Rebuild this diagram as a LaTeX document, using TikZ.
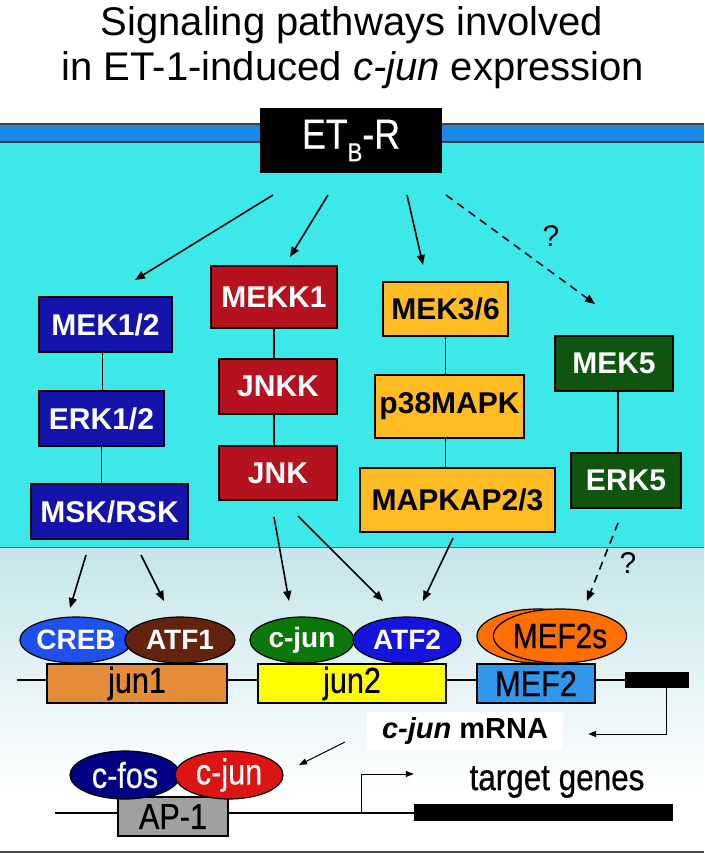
\documentclass[tikz,border=0pt]{standalone}
\usepackage{fontspec}
\setmainfont{Liberation Sans}
\newfontfamily\narrowfont[FakeStretch=0.85,FakeBold=0.6]{Liberation Sans}
\usetikzlibrary{arrows.meta,shapes.geometric}
\newcommand{\myfs}[1]{\fontsize{#1}{#1}\selectfont}
\definecolor{cyanbg}{RGB}{60,232,232}
\definecolor{membr}{RGB}{30,136,229}
\definecolor{lowbg}{RGB}{196,229,234}
\definecolor{cBlue}{RGB}{20,20,170}
\definecolor{cRed}{RGB}{180,18,30}
\definecolor{cOrange}{RGB}{255,187,34}
\definecolor{cGreen}{RGB}{15,85,15}
\definecolor{cCreb}{RGB}{30,80,240}
\definecolor{cAtfA}{RGB}{100,35,15}
\definecolor{cJunG}{RGB}{10,120,10}
\definecolor{cAtfB}{RGB}{20,20,220}
\definecolor{cMef}{RGB}{255,110,0}
\definecolor{cJunA}{RGB}{228,140,55}
\definecolor{cJunB}{RGB}{255,255,0}
\definecolor{cMefBox}{RGB}{50,150,235}
\definecolor{cFos}{RGB}{0,0,130}
\definecolor{cJunR}{RGB}{220,20,20}
\definecolor{cAP}{RGB}{160,160,160}
\begin{document}
\begin{tikzpicture}[x=1pt,y=-1pt,
  pbox/.style={draw=black, line width=1.2pt, inner sep=0pt, font=\bfseries\myfs{30}},
  bluebox/.style={pbox, fill=cBlue, text=white},
  redbox/.style={pbox, fill=cRed, text=white},
  orangebox/.style={pbox, fill=cOrange, text=black},
  greenbox/.style={pbox, fill=cGreen, text=white},
  oval/.style={ellipse, draw=black, line width=1.2pt, inner sep=0pt, minimum height=46pt},
  dnabox/.style={draw=black, line width=1.2pt, inner sep=0pt, minimum height=39pt, font=\narrowfont\myfs{36}},
  link/.style={line width=1.2pt},
  arr/.style={-{Triangle[length=10pt,width=8pt]}, line width=1.6pt},
  darr/.style={arr, dash pattern=on 8pt off 6pt},
  thinarr/.style={-{Triangle[length=8pt,width=6pt]}, line width=1pt},
  qmark/.style={font=\myfs{30}}
]
\useasboundingbox (0,0) rectangle (704,853);
% backgrounds
\fill[white] (0,0) rectangle (704,853);
\fill[cyanbg] (0,142) rectangle (704,547);
\fill[membr] (0,124) rectangle (704,142);
\draw[line width=1.2pt, black!75] (0,124) -- (704,124);
\draw[line width=1.2pt, black!75] (0,142) -- (704,142);
\shade[top color=lowbg, bottom color=white] (0,547) rectangle (704,790);
\draw[line width=1pt, black!60] (0,547) -- (704,547);
\draw[line width=2pt, black!70] (0,851.5) -- (704,851.5);

% title
\node[anchor=base, font=\myfs{40}] (t1) at (352,36) {Signaling pathways involved};
\node[anchor=base, font=\myfs{40}] (t2) at (353,81) {in ET-1-induced \textit{c-jun} expression};

% receptor
\node[fill=black, text=white, inner sep=0pt, minimum width=182pt, minimum height=65pt, font=\narrowfont\myfs{42}] (etb) at (351,140.5)
  {ET\raisebox{-0.3em}{\myfs{26}B}-R};

% kinase boxes
\node[bluebox, minimum width=133pt, minimum height=55pt] (mek12) at (105.5,324.5) {MEK1/2};
\node[bluebox, minimum width=125pt, minimum height=55pt] (erk12) at (101.5,418.5) {ERK1/2};
\node[bluebox, minimum width=157pt, minimum height=55pt] (msk) at (109.5,511.5) {MSK/RSK};
\node[redbox, minimum width=126pt, minimum height=62pt] (mekk1) at (274,297) {MEKK1};
\node[redbox, minimum width=118pt, minimum height=55pt] (jnkk) at (278,386.5) {JNKK};
\node[redbox, minimum width=118pt, minimum height=54pt] (jnk) at (278,473) {JNK};
\node[orangebox, minimum width=125pt, minimum height=54pt] (mek36) at (445.5,309) {MEK3/6};
\node[orangebox, minimum width=149pt, minimum height=63pt] (p38) at (449.5,406.5) {p38MAPK};
\node[orangebox, minimum width=195pt, minimum height=64pt] (mapkap) at (457.5,500) {MAPKAP2/3};
\node[greenbox, minimum width=118pt, minimum height=55pt] (mek5) at (614,363.5) {MEK5};
\node[greenbox, minimum width=110pt, minimum height=55pt] (erk5) at (626,480.5) {ERK5};

% links within cascades
\draw[link] ([xshift=-3pt]mek12.south) -- ([xshift=-3pt]mek12.south |- erk12.north);
\draw[link] (erk12.south) -- (erk12.south |- msk.north);
\draw[link] (mekk1.south) -- (mekk1.south |- jnkk.north);
\draw[link] (mekk1.south |- jnkk.south) -- (mekk1.south |- jnk.north);
\draw[link] (mek36.south) -- (mek36.south |- p38.north);
\draw[link] (mek36.south |- p38.south) -- (mek36.south |- mapkap.north);
\draw[link] ([xshift=4pt]mek5.south) -- ([xshift=4pt]mek5.south |- erk5.north);

% arrows from receptor
\coordinate (s1) at (273,195);
\coordinate (s2) at (328,195);
\coordinate (s3) at (407,195);
\coordinate (s4) at (446,195);
\coordinate (e1) at (135,280);
\coordinate (e2) at (290,257);
\coordinate (e3) at (423,265);
\coordinate (e4) at (595,304);
\draw[arr] (s1) -- (e1);
\draw[arr] (s2) -- (e2);
\draw[arr] (s3) -- (e3);
\draw[darr] (s4) -- (e4);
\node[qmark] (q1) at (551,236) {?};

% DNA line 1
\draw[line width=1.6pt] (17,680) -- (625,680);
\node[dnabox, fill=cJunA, minimum width=180pt] (jun1) at (137,683.5) {jun1};
\node[dnabox, fill=cJunB, minimum width=188pt] (jun2) at (352,683.5) {jun2};
\node[dnabox, fill=cMefBox, minimum width=118pt] (mef2) at (536,683.5) {MEF2};
\node[fill=black, inner sep=0pt, minimum width=64pt, minimum height=16pt] (exon) at (657,680) {};

% transcription factors
\node[oval, fill=cCreb, minimum width=104pt, text=white, font=\bfseries\myfs{28}] (creb) at (76,640) {CREB};
\node[oval, fill=cAtfA, minimum width=110pt, text=white, font=\bfseries\myfs{28}] (atf1) at (180,640) {ATF1};
\node[oval, fill=cJunG, minimum width=104pt, text=white, font=\bfseries\myfs{28}] (cjun) at (302,640) {c-jun};
\node[oval, fill=cAtfB, minimum width=108pt, text=white, font=\bfseries\myfs{28}] (atf2) at (407,640) {ATF2};
\node[oval, fill=cMef, minimum width=122pt, minimum height=54pt] (mefback) at (538,636) {};
\node[oval, fill=cMef, minimum width=116pt, minimum height=54pt, font=\narrowfont\myfs{35}] (mef2s) at (560,636) {MEF2s};

% arrows to transcription factors
\coordinate (m1) at (86,555);
\coordinate (m2) at (141,555);
\coordinate (j1) at (274,517);
\coordinate (j2) at (298,516);
\coordinate (k1) at (453,538);
\coordinate (r1) at (618,523);
\coordinate (f1) at (70,608);
\coordinate (f2) at (164,601);
\coordinate (f3) at (289,601);
\coordinate (f4) at (383,601);
\coordinate (f5) at (423,601);
\coordinate (f6) at (587,601);
\draw[arr] (m1) -- (f1);
\draw[arr] (m2) -- (f2);
\draw[arr] (j1) -- (f3);
\draw[arr] (j2) -- (f4);
\draw[arr] (k1) -- (f5);
\draw[darr] (r1) -- (f6);
\node[qmark] (q2) at (628,563) {?};

% mRNA
\node[fill=white, inner sep=0pt, minimum width=196pt, minimum height=38pt, font=\bfseries\myfs{29}] (mrna) at (465,731) {\textit{c-jun} mRNA};
\draw[thinarr] ([xshift=9pt]exon.south) |- ([xshift=25pt,yshift=-3pt]mrna.east);

% AP-1 section
\draw[line width=1.6pt] (55,813) -- (414,813);
\node[dnabox, fill=cAP, minimum width=110pt] (ap1) at (173,816.5) {AP-1};
\node[oval, fill=cFos, minimum width=110pt, minimum height=48pt, text=white, font=\narrowfont\myfs{36}] (cfos) at (125,775) {c-fos};
\node[oval, fill=cJunR, minimum width=108pt, minimum height=48pt, text=white, font=\narrowfont\myfs{36}] (cjun2) at (229,775) {c-jun};
\coordinate (mr) at (345,742);
\coordinate (mr2) at (299,765);
\draw[thinarr] (mr) -- (mr2);
\node[fill=black, inner sep=0pt, minimum width=259pt, minimum height=17pt] (gene) at (543.5,812.5) {};
\coordinate (tss) at (361,813);
\draw[thinarr] (tss) |- ([yshift=38.5pt]gene.west);
\node[font=\narrowfont\myfs{37}] (tg) at (557,782) {target genes};
\end{tikzpicture}
\end{document}
